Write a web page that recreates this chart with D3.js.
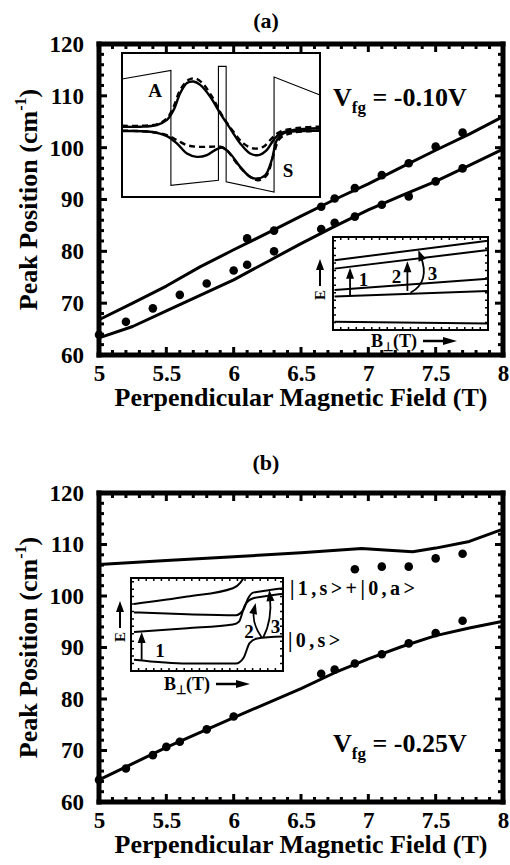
<!DOCTYPE html>
<html>
<head>
<meta charset="utf-8">
<script src="https://cdn.jsdelivr.net/npm/d3@7"></script>
<style>
  html, body { margin: 0; padding: 0; background: #fff; }
  svg { display: block; }
</style>
</head>
<body>
<div id="chart"></div>
<script>
// Chart size and the shared frame of both panels
const width = 510;
const height = 865;
const plotLeft = 99;
const plotRight = 503;
const font = "'Liberation Serif', 'Times New Roman', serif";

// Axis ticks
const fieldTicks = [5, 5.5, 6, 6.5, 7, 7.5, 8];
const fieldMinor = d3.range(50, 81).map((d) => d / 10);
const peakTicks = [60, 70, 80, 90, 100, 110, 120];
const peakMinor = d3.range(60, 121, 2);

// Panel (a), Vfg = -0.10V
const aFitT = [5, 5.25, 5.5, 5.75, 6, 6.25, 6.5, 6.75, 7, 7.25, 7.5, 7.75, 8];
const aFitUpper = [66.8, 70.0, 73.3, 77.0, 80.3, 83.5, 86.8, 90.0, 93.0, 96.3, 99.5, 102.6, 106.0];
const aFitLower = [63.3, 65.5, 68.5, 71.5, 74.5, 78.0, 81.5, 84.8, 88.0, 90.8, 93.5, 96.6, 99.7];
const aUpperT = [6.1, 6.3, 6.65, 6.75, 6.9, 7.1, 7.3, 7.5, 7.7];
const aUpper = [82.5, 84.0, 88.6, 90.2, 92.2, 94.7, 97.0, 100.2, 102.9];
const aLowerT = [5.0, 5.2, 5.4, 5.6, 5.8, 6.0, 6.1, 6.3, 6.65, 6.75, 6.9, 7.1, 7.3, 7.5, 7.7];
const aLower = [63.9, 66.4, 69.0, 71.6, 73.8, 76.3, 77.4, 80.0, 84.3, 85.5, 86.7, 89.0, 90.6, 93.5, 96.0];

// Panel (b), Vfg = -0.25V
const bFitUpperT = [5, 5.5, 6, 6.5, 6.95, 7.15, 7.33, 7.5, 7.75, 8];
const bFitUpper = [106.1, 106.9, 107.6, 108.4, 109.2, 108.9, 108.6, 109.3, 110.6, 113.0];
const bFitLowerT = [5, 5.5, 6, 6.5, 6.75, 7, 7.25, 7.5, 7.75, 8];
const bFitLower = [64.3, 70.6, 76.4, 82.0, 85.1, 87.8, 90.2, 92.3, 93.8, 95.1];
const bUpperT = [6.9, 7.1, 7.3, 7.5, 7.7];
const bUpper = [105.2, 105.7, 105.7, 107.3, 108.2];
const bLowerT = [5.0, 5.2, 5.4, 5.5, 5.6, 5.8, 6.0, 6.65, 6.75, 6.9, 7.1, 7.3, 7.5, 7.7];
const bLower = [64.3, 66.5, 69.1, 70.7, 71.7, 74.1, 76.6, 84.9, 85.7, 86.9, 88.7, 90.8, 92.8, 95.2];

// Inset of (a): double well potential and wavefunctions, in 0-100 inset units
const wellPotential = [[0, 81.9], [24.7, 87.9], [24.7, 8.1], [48.7, 11.6], [48.7, 90.7], [52.6, 90.7],
  [52.6, 10.5], [76.8, 3.5], [76.8, 83.3], [100, 70.9]];
const waveA = [[0, 48.8], [9.2, 48.8], [17.6, 50.0], [22.7, 53.5], [26.1, 60.5], [29.4, 72.1], [32.8, 79.1],
  [36.1, 80.2], [39.5, 77.9], [44.5, 69.8], [49.6, 58.1], [54.6, 47.7], [59.7, 37.2], [64.7, 30.2],
  [68.9, 29.1], [73.1, 32.6], [76.5, 39.5], [79.8, 44.2], [86.6, 46.5], [100, 47.7]];
const waveADashed = [[0, 49.5], [17.6, 50.5], [22.7, 54.7], [26.1, 62.8], [29.4, 74.4], [33.6, 81.4],
  [37.0, 82.3], [40.3, 79.5], [45.4, 69.8], [50.4, 57.0], [56.3, 45.3], [61.3, 37.2], [66.4, 33.7],
  [71.4, 34.9], [75.6, 40.7], [79.8, 45.3], [89.9, 48.1], [100, 48.8]];
const waveS = [[0, 45.8], [14.3, 45.3], [22.7, 42.3], [27.7, 37.2], [32.8, 30.2], [37.8, 27.9], [42.9, 29.1],
  [47.9, 33.3], [50.9, 34.2], [54.6, 30.2], [59.7, 20.9], [64.7, 14.0], [68.1, 12.8], [72.3, 15.1],
  [75.6, 25.6], [78.2, 39.5], [81.5, 44.2], [89.9, 45.8], [100, 46.0]];
const waveSDashed = [[0, 46.0], [14.3, 45.3], [22.7, 43.0], [27.7, 39.5], [32.8, 36.0], [37.8, 34.9],
  [44.5, 34.9], [49.6, 34.9], [52.9, 32.6], [58.0, 23.3], [64.7, 14.0], [68.9, 11.6], [73.1, 15.1],
  [76.5, 29.1], [79.8, 40.7], [86.6, 44.7], [100, 46.0]];

// Level diagrams (E vs B), 0-100 inset units
const aLevels = [
  [[1, 75], [100, 96]],
  [[1, 66], [100, 86]],
  [[1, 43], [100, 55]],
  [[1, 36], [100, 42]],
  [[1, 9], [100, 7]]
];
const bLevels = [
  [[2, 72], [37, 80], [67, 89], [72, 95], [74, 100]],
  [[2, 63], [37, 61], [69, 60], [74, 66], [77, 78], [80, 84], [87, 86], [100, 89]],
  [[2, 42], [37, 46], [67, 50], [71, 53], [75, 71], [80, 78], [87, 80], [100, 83]],
  [[2, 12], [37, 8], [69, 8], [74, 14], [78, 30], [83, 35], [100, 37]]
];

const svg = d3.select("#chart").append("svg")
  .attr("width", width)
  .attr("height", height)
  .attr("viewBox", "0 0 510 865");

svg.append("rect").attr("width", width).attr("height", height).attr("fill", "#fff");

const chart = svg.append("g")
  .attr("font-family", font)
  .attr("font-weight", "bold");

// arrow head as a small filled triangle at (tx,ty) pointing along angle a
function arrowHead(g, tx, ty, a, len, wid) {
  const c = Math.cos(a), s = Math.sin(a);
  const bx = tx - len * c, by = ty - len * s;
  g.append("path")
    .attr("d", `M${tx},${ty}L${bx - (wid / 2) * s},${by + (wid / 2) * c}L${bx + (wid / 2) * s},${by - (wid / 2) * c}Z`)
    .attr("fill", "#000").attr("stroke", "none");
}

// "(a)" and "(b)"
function panelLabel(txt, yy) {
  chart.append("text").attr("x", 266).attr("y", yy).attr("text-anchor", "middle")
    .attr("font-size", 22).text(txt);
}

function drawPanel(p) {
  const x = d3.scaleLinear().domain([5, 8]).range([plotLeft, plotRight]);
  const y = d3.scaleLinear().domain([60, 120]).range([p.bottom, p.top]);
  const g = chart.append("g");

  const line = d3.line().x((d) => x(d[0])).y((d) => y(d[1]));
  p.fits.forEach(([T, V]) => {
    g.append("path").datum(d3.zip(T, V))
      .attr("fill", "none").attr("stroke", "#000").attr("stroke-width", 3)
      .attr("stroke-linejoin", "round").attr("d", line);
  });
  p.points.forEach(([T, V]) => {
    g.selectAll(null).data(d3.zip(T, V)).join("circle")
      .attr("cx", (d) => x(d[0])).attr("cy", (d) => y(d[1])).attr("r", 4.3).attr("fill", "#000");
  });

  // frame, one open segment per side, through the data domain corners
  const sides = [
    [[5, 60], [8, 60]],
    [[8, 60], [8, 120]],
    [[8, 120], [5, 120]],
    [[5, 120], [5, 60]]
  ];
  sides.forEach((s) => {
    g.append("path").datum(s)
      .attr("fill", "none").attr("stroke", "#000").attr("stroke-width", 5)
      .attr("stroke-linecap", "square").attr("d", line);
  });

  // inward ticks, each a short segment
  const tickLine = d3.line();
  fieldMinor.forEach((d) => {
    const len = fieldTicks.includes(d) ? 8 : 5;
    g.append("path").datum([[x(d), p.bottom], [x(d), p.bottom - len]])
      .attr("fill", "none").attr("stroke", "#000").attr("stroke-width", 3).attr("d", tickLine);
    g.append("path").datum([[x(d), p.top], [x(d), p.top + len]])
      .attr("fill", "none").attr("stroke", "#000").attr("stroke-width", 3).attr("d", tickLine);
  });
  peakMinor.forEach((d) => {
    const len = peakTicks.includes(d) ? 8 : 5;
    g.append("path").datum([[plotLeft, y(d)], [plotLeft + len, y(d)]])
      .attr("fill", "none").attr("stroke", "#000").attr("stroke-width", 3).attr("d", tickLine);
    g.append("path").datum([[plotRight, y(d)], [plotRight - len, y(d)]])
      .attr("fill", "none").attr("stroke", "#000").attr("stroke-width", 3).attr("d", tickLine);
  });

  if (p.insets) p.insets(g);

  // tick labels
  g.append("g").attr("transform", `translate(0,${p.bottom})`)
    .call(d3.axisBottom(x).tickValues(fieldTicks).tickSize(0).tickPadding(10).tickFormat((d) => String(d)))
    .call((s) => s.select(".domain").remove())
    .attr("font-family", font).attr("font-size", 23).attr("font-weight", "bold")
    .selectAll("text").attr("fill", "#000");
  g.append("g").attr("transform", `translate(${plotLeft},0)`)
    .call(d3.axisLeft(y).tickValues(peakTicks).tickSize(0).tickPadding(15).tickFormat((d) => String(d)))
    .call((s) => s.select(".domain").remove())
    .attr("font-family", font).attr("font-size", 23).attr("font-weight", "bold")
    .selectAll("text").attr("fill", "#000");

  // axis titles
  g.append("text").attr("x", 301).attr("y", p.bottom + 51).attr("text-anchor", "middle")
    .attr("font-size", 26).text("Perpendicular Magnetic Field (T)");
  const yt = g.append("text")
    .attr("transform", `translate(37,${(p.top + p.bottom) / 2}) rotate(-90)`)
    .attr("text-anchor", "middle").attr("font-size", 26);
  yt.append("tspan").text("Peak Position (cm");
  yt.append("tspan").attr("font-size", 16).attr("dy", -11).text("-1");
  yt.append("tspan").attr("dy", 11).text(")");

  // gate voltage label
  const vt = g.append("text").attr("x", 333).attr("y", p.vfgY).attr("font-size", 26);
  vt.append("tspan").text("V");
  vt.append("tspan").attr("font-size", 17).attr("dy", 7).text("fg");
  vt.append("tspan").attr("dy", -7).text(p.vfg);
}

// small framed inset with optional tick marks along its edges
function insetBox(g, box, ticks) {
  const u = d3.scaleLinear().domain([0, 100]).range([box.x0, box.x1]);
  const v = d3.scaleLinear().domain([0, 100]).range([box.y1, box.y0]);
  const ig = g.append("g");
  ig.append("rect").attr("x", box.x0).attr("y", box.y0)
    .attr("width", box.x1 - box.x0).attr("height", box.y1 - box.y0)
    .attr("fill", "#fff");
  const body = ig.append("g");
  if (ticks) {
    const tp = d3.path();
    d3.range(0, 101, 5).forEach((d) => {
      tp.moveTo(u(d), box.y0); tp.lineTo(u(d), box.y0 + 3);
      tp.moveTo(u(d), box.y1); tp.lineTo(u(d), box.y1 - 3);
    });
    d3.range(0, 101, 8).forEach((d) => {
      tp.moveTo(box.x0, v(d)); tp.lineTo(box.x0 + 3, v(d));
      tp.moveTo(box.x1, v(d)); tp.lineTo(box.x1 - 3, v(d));
    });
    ig.append("path").attr("d", tp.toString()).attr("fill", "none")
      .attr("stroke", "#000").attr("stroke-width", 1.5);
  }
  ig.append("rect").attr("x", box.x0).attr("y", box.y0)
    .attr("width", box.x1 - box.x0).attr("height", box.y1 - box.y0)
    .attr("fill", "none").attr("stroke", "#000").attr("stroke-width", 2);
  const line = d3.line().x((d) => u(d[0])).y((d) => v(d[1]));
  return { body, u, v, line };
}

function levelDiagram(g, box, levels, arrows, labels, eLabel, bLabel) {
  const { body, u, v, line } = insetBox(g, box, true);
  const smooth = line.curve(d3.curveMonotoneX);
  levels.forEach((lv) => {
    body.append("path").datum(lv).attr("fill", "none").attr("stroke", "#000")
      .attr("stroke-width", 2).attr("d", smooth);
  });
  arrows.forEach((a) => {
    const path = d3.path();
    const n = a.length - 1;
    const tx = u(a[n][0]), ty = v(a[n][1]);
    const px = u(a[n - 1][0]), py = v(a[n - 1][1]);
    const ang = Math.atan2(ty - py, tx - px);
    // stop the shaft short of the tip, under the head
    const ex = tx - 6 * Math.cos(ang), ey = ty - 6 * Math.sin(ang);
    path.moveTo(u(a[0][0]), v(a[0][1]));
    if (n === 2) path.quadraticCurveTo(px, py, ex, ey);
    else path.lineTo(ex, ey);
    body.append("path").attr("d", path.toString()).attr("fill", "none").attr("stroke", "#000")
      .attr("stroke-width", 1.8);
    arrowHead(body, tx, ty, ang, 11, 8);
  });
  labels.forEach(([t, a, b]) => {
    body.append("text").attr("x", u(a)).attr("y", v(b)).attr("dy", "0.35em")
      .attr("text-anchor", "middle").attr("font-size", 19).text(t);
  });
  // E axis arrow
  g.append("line").attr("x1", eLabel[0]).attr("x2", eLabel[0]).attr("y1", eLabel[1] - 9).attr("y2", eLabel[1] - 28)
    .attr("stroke", "#000").attr("stroke-width", 2);
  arrowHead(g, eLabel[0], eLabel[1] - 36, -Math.PI / 2, 11, 8);
  g.append("text").attr("transform", `translate(${eLabel[0] + 5},${eLabel[1]}) rotate(-90)`)
    .attr("text-anchor", "middle").attr("font-size", 15).text("E");
  // B axis label
  const bt = g.append("text").attr("x", bLabel[0]).attr("y", bLabel[1]).attr("font-size", 18);
  bt.append("tspan").text("B");
  bt.append("tspan").attr("font-size", 12).attr("dy", 4).text("\u22a5");
  bt.append("tspan").attr("dy", -4).text("(T)");
  g.append("line").attr("x1", bLabel[0] + 52).attr("x2", bLabel[0] + 74)
    .attr("y1", bLabel[1] - 6).attr("y2", bLabel[1] - 6)
    .attr("stroke", "#000").attr("stroke-width", 2.5);
  arrowHead(g, bLabel[0] + 86, bLabel[1] - 6, 0, 14, 8);
}

panelLabel("(a)", 28);
drawPanel({
  id: "a", top: 44, bottom: 355, vfgY: 106, vfg: " = -0.10V",
  fits: [[aFitT, aFitUpper], [aFitT, aFitLower]],
  points: [[aUpperT, aUpper], [aLowerT, aLower]],
  insets: (g) => {
    // potential and wavefunctions
    const { body, u, v, line } = insetBox(g, { x0: 122, x1: 320, y0: 53, y1: 197 }, false);
    body.append("path").datum(wellPotential).attr("fill", "none").attr("stroke", "#000")
      .attr("stroke-width", 1.1).attr("d", line);
    const smooth = d3.line().x((d) => u(d[0])).y((d) => v(d[1])).curve(d3.curveCatmullRom);
    [waveA, waveS].forEach((w) => body.append("path").datum(w).attr("fill", "none")
      .attr("stroke", "#000").attr("stroke-width", 2.4).attr("d", smooth));
    [waveADashed, waveSDashed].forEach((w) => body.append("path").datum(w).attr("fill", "none")
      .attr("stroke", "#000").attr("stroke-width", 2.4).attr("stroke-dasharray", "6,4").attr("d", smooth));
    body.append("text").attr("x", u(16.7)).attr("y", v(74.3)).attr("dy", "0.35em")
      .attr("text-anchor", "middle").attr("font-size", 19).text("A");
    body.append("text").attr("x", u(83.8)).attr("y", v(18.8)).attr("dy", "0.35em")
      .attr("text-anchor", "middle").attr("font-size", 19).text("S");

    levelDiagram(g, { x0: 333, x1: 488, y0: 237, y1: 330 }, aLevels,
      [[[11, 37], [11, 67]], [[48, 42], [48, 74]], [[50, 40], [63, 52], [55, 86]]],
      [["1", 19.7, 54], ["2", 41, 57.5], ["3", 64.2, 61]],
      [320, 295], [371, 347]);
  }
});

panelLabel("(b)", 470);
drawPanel({
  id: "b", top: 493, bottom: 802, vfgY: 752, vfg: " = -0.25V",
  fits: [[bFitUpperT, bFitUpper], [bFitLowerT, bFitLower]],
  points: [[bUpperT, bUpper], [bLowerT, bLower]],
  insets: (g) => {
    levelDiagram(g, { x0: 131, x1: 283, y0: 578, y1: 671 }, bLevels,
      [[[7, 12], [7, 42]], [[86, 36], [79, 52], [82, 73]], [[87, 36], [93, 55], [91, 87]]],
      [["1", 19, 22.6], ["2", 77.6, 42.5], ["3", 95, 48]],
      [120, 637], [164, 690]);
    const kt = g.append("g").attr("font-size", 20).attr("letter-spacing", "3.4px");
    kt.append("text").attr("x", 290).attr("y", 595).text("|1,s>+|0,a>");
    kt.append("text").attr("x", 288).attr("y", 647).text("|0,s>");
  }
});
</script>
</body>
</html>
